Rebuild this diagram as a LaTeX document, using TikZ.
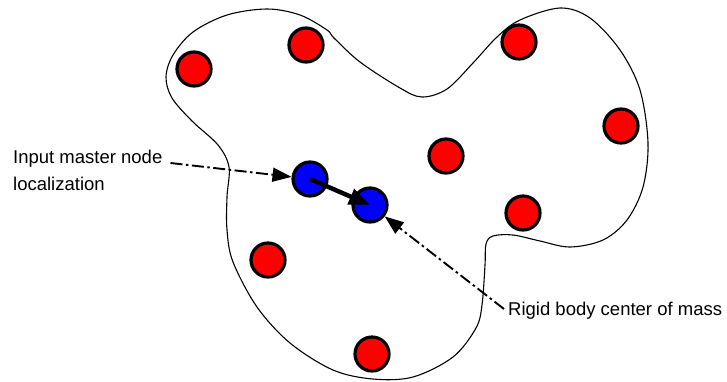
\documentclass[tikz,border=0pt]{standalone}
\usepackage{fontspec}
\setmainfont{Liberation Sans}
\usetikzlibrary{arrows.meta}
\tikzset{
  ball/.style={circle, draw=black, line width=3.2pt, minimum size=34pt, inner sep=0pt},
  redball/.style={ball, fill=red},
  blueball/.style={ball, fill=blue},
  lbl/.style={inner sep=0pt, font=\fontsize{18.5}{22}\selectfont},
  dashdot/.style={line width=1.9pt, dash pattern=on 12pt off 3.5pt on 2.5pt off 3.5pt, -{Triangle[length=19pt,width=14pt]}},
  bigarrow/.style={line width=4.5pt, -{Triangle[length=21pt,width=16pt]}},
  outline/.style={line width=1.1pt}
}
\begin{document}
\begin{tikzpicture}[x=1pt,y=-1pt]
\useasboundingbox (0,0) rectangle (727,381);
% body outline
\draw[outline] plot[smooth cycle, tension=0.55] coordinates {
 (166,77) (173,55) (193,32) (227,15) (267,9) (300,15) (327,30) (334,38)
 (360,62) (400,88) (422,97) (447,89) (473,63) (497,37) (520,20) (560,8)
 (590,18) (620,50) (640,90) (648,143) (643,187) (627,220) (603,240)
 (570,247) (540,241) (513,235) (493,236) (486,244) (485,265) (482,305)
 (476,328) (453,357) (413,377) (373,379) (333,370) (290,343) (257,307)
 (233,262) (227,230) (227,197) (229,167) (218,145) (192,121) (172,98)
};
% red nodes
\node[redball] (r1) at (194,69) {};
\node[redball] (r2) at (306,45) {};
\node[redball] (r3) at (519,42) {};
\node[redball] (r4) at (621,126) {};
\node[redball] (r5) at (446,156) {};
\node[redball] (r6) at (523,213) {};
\node[redball] (r7) at (268,260) {};
\node[redball] (r8) at (372,354) {};
% blue nodes
\node[blueball] (b1) at (310,179) {};
\node[blueball] (b2) at (370,205) {};
% labels
\node[lbl, anchor=base west] (t1a) at (13,163) {Input master node};
\node[lbl, anchor=base west] (t1b) at (13,190) {localization};
\node[lbl, anchor=base west] (t2) at (508,315) {Rigid body center of mass};
% arrows
\draw[dashdot] ([xshift=8pt]t1a.base east) -- (b1);
\draw[dashdot] ([xshift=-4pt,yshift=6pt]t2.base west) -- (b2);
\draw[bigarrow] (b1.center) -- (b2.center);
\end{tikzpicture}
\end{document}
